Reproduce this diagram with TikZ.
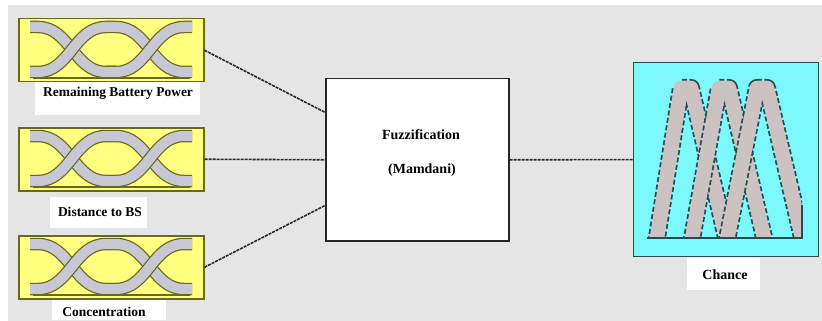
\documentclass[tikz,border=0pt]{standalone}
\usepackage{fontspec}
\setmainfont{Liberation Serif}
\usetikzlibrary{calc}
\definecolor{bgg}{RGB}{229,229,229}
\definecolor{ylw}{RGB}{255,255,128}
\definecolor{myolive}{RGB}{105,105,30}
\definecolor{bandgray}{RGB}{200,200,212}
\definecolor{cyanfill}{RGB}{125,248,252}
\definecolor{tribg}{RGB}{204,194,194}
\definecolor{tealedge}{RGB}{40,75,80}
\definecolor{lineclr}{RGB}{40,40,40}
\begin{document}
\begin{tikzpicture}[x=1pt,y=-1pt,
  ybox/.style={draw=myolive, line width=1.5pt, fill=ylw, minimum width=185pt, minimum height=63pt, inner sep=0pt, anchor=north west},
  lbl/.style={font=\bfseries\fontsize{13.5}{15}\selectfont, inner sep=0pt},
  biglbl/.style={font=\bfseries\fontsize{14}{16}\selectfont, inner sep=0pt},
  conn/.style={draw=lineclr, line width=1.6pt, dash pattern=on 3pt off 1pt},
  bandout/.style={draw=myolive, line width=12.5pt},
  bandin/.style={draw=bandgray, line width=10pt},
  triout/.style={draw=tealedge, line width=18pt, dash pattern=on 5pt off 2.5pt, line join=round},
  triin/.style={draw=tribg, line width=14.5pt, line join=round}]
\useasboundingbox (0,0) rectangle (822,321);
\fill[white] (0,0) rectangle (822,321);
\fill[bgg] (8,5) rectangle (822,321);

% label backgrounds
\fill[white] (35,81) rectangle (200,115);
\fill[white] (50,197) rectangle (147,228);
\fill[white] (52,300) rectangle (166,320);
\fill[white] (687,258) rectangle (760,290);

% input boxes
\node[ybox] (b1) at (18,18) {};
\node[ybox] (b2) at (18,127) {};
\node[ybox] (b3) at (18,235) {};

\foreach \b in {b1,b2,b3}{
  \begin{scope}
    \clip ($(\b.north west)+(1,1)$) rectangle ($(\b.south east)+(-1,-1)$);
    \begin{scope}[shift={(\b.north west)}]
      \draw[bandout] (12,9) -- (20,9) .. controls (52,9) and (56,54) .. (88,54) -- (98,54);
      \draw[bandin]  (12,9) -- (20,9) .. controls (52,9) and (56,54) .. (88,54) -- (98,54);
      \draw[bandout] (12,54) -- (20,54) .. controls (52,54) and (56,9) .. (88,9) -- (98,9) .. controls (130,9) and (134,54) .. (166,54) -- (174,54);
      \draw[bandin]  (12,54) -- (20,54) .. controls (52,54) and (56,9) .. (88,9) -- (98,9) .. controls (130,9) and (134,54) .. (166,54) -- (174,54);
      \draw[bandout] (88,54) -- (98,54) .. controls (130,54) and (134,9) .. (166,9) -- (174,9);
      \draw[bandin]  (88,54) -- (98,54) .. controls (130,54) and (134,9) .. (166,9) -- (174,9);
      \draw[myolive, line width=1.4pt] (15,60) -- (172,60);
    \end{scope}
  \end{scope}
}

% labels
\node[lbl] (l1) at (118,93) {Remaining Battery Power};
\node[lbl] (l2) at (100,212) {Distance to BS};
\node[lbl] (l3) at (104,312) {Concentration};

% fuzzification box
\node[draw=black!85, line width=1.5pt, fill=white, minimum width=183pt, minimum height=162pt, inner sep=0pt, anchor=north west] (fz) at (325,78) {};
\node[biglbl] (t1) at (421,135) {Fuzzification};
\node[biglbl] (t2) at (422,170) {(Mamdani)};

% output box
\node[draw=tealedge, line width=1.3pt, fill=cyanfill, minimum width=185pt, minimum height=194pt, inner sep=0pt, anchor=north west] (ch) at (633,62) {};
\begin{scope}
  \clip (645,60) rectangle (802,238);
  \foreach \i in {0,1,2}{
    \draw[triout] ({655+35*\i},250) -- ({681+38*\i},88) -- ({691+38*\i},88) -- ({729+38*\i},250);
    \draw[triin]  ({655+35*\i},250) -- ({681+38*\i},88) -- ({691+38*\i},88) -- ({729+38*\i},250);
  }
\end{scope}
\draw[tealedge, line width=1.3pt] (647,238) -- (802,238) -- (802,205);
\node[biglbl] (l4) at (725,275) {Chance};

% connectors
\draw[conn] (b1.east) -- ($(fz.north west)!0.21!(fz.south west)$);
\draw[conn] (b2.east) -- (fz.west);
\draw[conn] (b3.east) -- ($(fz.north west)!0.78!(fz.south west)$);
\draw[conn] (fz.east) -- (ch.west);
\end{tikzpicture}
\end{document}
